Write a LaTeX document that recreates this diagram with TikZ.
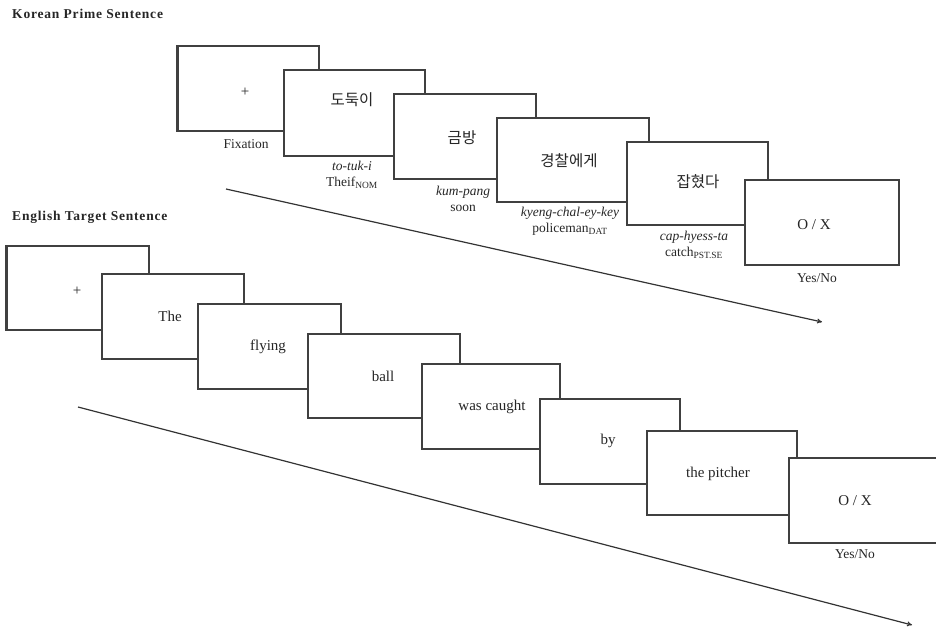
\documentclass[tikz,border=0pt]{standalone}
\usepackage{fontspec}
\setmainfont{Liberation Serif}
\newfontfamily\kr{Noto Sans CJK KR}
\usetikzlibrary{arrows.meta}
\tikzset{
  scr/.style={draw=black!75, line width=1.5pt, fill=white, rectangle, anchor=north west, inner sep=0pt, minimum height=85pt},
  word/.style={inner sep=0pt, font=\fontsize{15}{17}\selectfont, text=black!85},
  krw/.style={inner sep=0pt, font=\kr\fontsize{15.5}{17}\selectfont, text=black!85},
  capt/.style={inner sep=0pt, font=\fontsize{13.5}{15}\selectfont, text=black!85, align=center},
  gloss/.style={inner sep=0pt, font=\fontsize{13.5}{16}\selectfont, text=black!85, align=center},
  ttl/.style={inner sep=0pt, anchor=west, font=\addfontfeature{LetterSpace=6}\bfseries\fontsize{13.5}{15}\selectfont, text=black!85},
  timeline/.style={draw=black!80, line width=1.2pt, -{To[length=5pt,width=5pt]}},
}
\begin{document}
\begin{tikzpicture}[x=1pt,y=-1pt]
\useasboundingbox (0,0) rectangle (936,629);
% ---------------- Korean prime sentence ----------------
\node[ttl] (kt) at (12,14) {Korean Prime Sentence};
\node[scr, minimum width=141pt] (k1) at (177,45) {};
\draw[draw=black!75, line width=2.8pt] (k1.north west) -- (k1.south west);
\node[word] (k1w) at (245,92) {+};
\node[capt] (k1c) at (246,144) {Fixation};
\node[scr, minimum width=141pt, minimum height=86pt] (k2) at (283,69) {};
\node[krw] (k2w) at (352,100) {도둑이};
\node[gloss] (k2c) at (352,175) {\textit{to-tuk-i}\\Theif\textsubscript{NOM}};
\node[scr, minimum width=142pt] (k3) at (393,93) {};
\node[krw] (k3w) at (462,138) {금방};
\node[gloss] (k3c) at (463,199) {\textit{kum-pang}\\soon};
\node[scr, minimum width=152pt, minimum height=84pt] (k4) at (496,117) {};
\node[krw] (k4w) at (569,161) {경찰에게};
\node[gloss] (k4c) at (570,221) {\textit{kyeng-chal-ey-key}\\policeman\textsubscript{DAT}};
\node[scr, minimum width=141pt, minimum height=83pt] (k5) at (626,141) {};
\node[krw] (k5w) at (698,182) {잡혔다};
\node[gloss] (k5c) at (694,245) {\textit{cap-hyess-ta}\\catch\textsubscript{PST.SE}};
\node[scr, minimum width=154pt] (k6) at (744,179) {};
\node[word] (k6w) at (814,225) {O / X};
\node[capt] (k6c) at (817,278) {Yes/No};
\coordinate (ka) at (226,189);
\coordinate (kb) at (822,322);
\draw[timeline] (ka) -- (kb);
% ---------------- English target sentence ----------------
\node[ttl] (et) at (12,217) {English Target Sentence};
\node[scr, minimum width=142pt, minimum height=84pt] (e1) at (6,245) {};
\draw[draw=black!75, line width=2.2pt] (e1.north west) -- (e1.south west);
\node[word] (e1w) at (77,291) {+};
\node[scr, minimum width=142pt] (e2) at (101,273) {};
\node[word] (e2w) at (170,316) {The};
\node[scr, minimum width=143pt] (e3) at (197,303) {};
\node[word] (e3w) at (268,347) {flying};
\node[scr, minimum width=152pt, minimum height=84pt] (e4) at (307,333) {};
\node[word] (e4w) at (383,376) {ball};
\node[scr, minimum width=138pt] (e5) at (421,363) {};
\node[word] (e5w) at (492,407) {was caught};
\node[scr, minimum width=140pt] (e6) at (539,398) {};
\node[word] (e6w) at (608,441) {by};
\node[scr, minimum width=150pt, minimum height=84pt] (e7) at (646,430) {};
\node[word] (e7w) at (718,474) {the pitcher};
\node[scr, minimum width=160pt] (e8) at (788,457) {};
\node[word] (e8w) at (855,501) {O / X};
\node[capt] (e8c) at (855,554) {Yes/No};
\coordinate (ea) at (78,407);
\coordinate (eb) at (912,625);
\draw[timeline] (ea) -- (eb);
\end{tikzpicture}
\end{document}
